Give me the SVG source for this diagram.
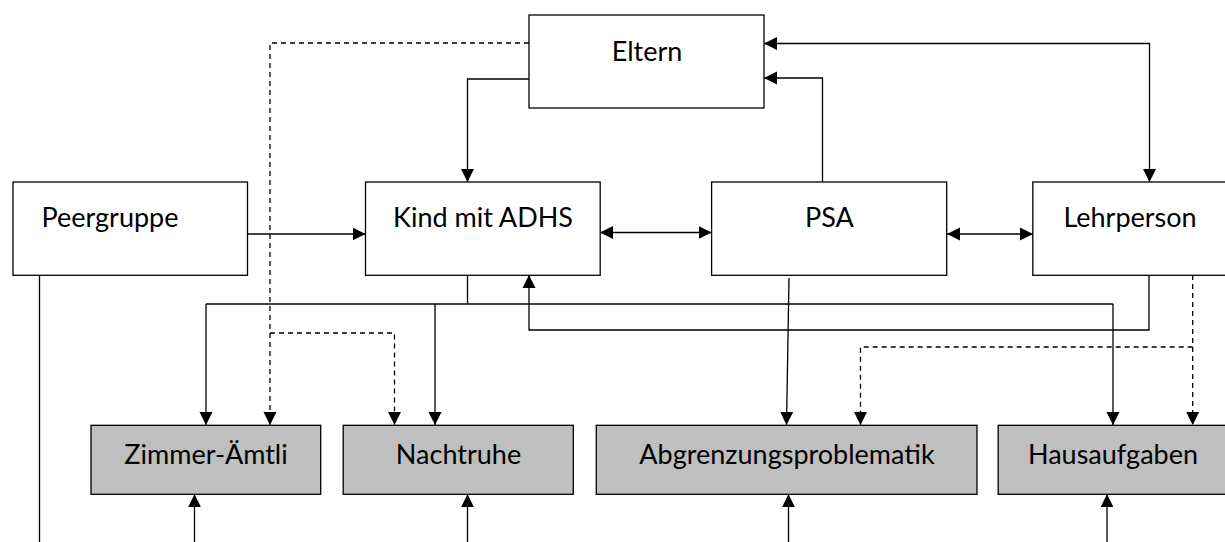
<svg xmlns="http://www.w3.org/2000/svg" width="1225" height="542" viewBox="0 0 1225 542">
<style>
.box{fill:#ffffff;stroke:#000;stroke-width:1.3}
.gbox{fill:#bfbfbf;stroke:#000;stroke-width:1.3}
.lbl{font-family:Lato,"Liberation Sans",sans-serif;font-size:27px;fill:#000;text-anchor:middle}
.ln{fill:none;stroke:#000;stroke-width:1.3}
.dash{fill:none;stroke:#000;stroke-width:1.3;stroke-dasharray:5 4}
.arr{marker-end:url(#ah)}
.arr2{marker-start:url(#ah);marker-end:url(#ah)}
</style>
<defs>
<marker id="ah" markerUnits="userSpaceOnUse" markerWidth="14" markerHeight="14" viewBox="0 0 14 14" refX="13" refY="7" orient="auto-start-reverse">
<path d="M0,0.5 L13,7 L0,13.5 z" fill="#000"/>
</marker>
</defs>
<rect width="1225" height="542" fill="#fff"/>
<g id="connectors">
<path class="ln arr" d="M529,79 H467.5 V182"/>
<path class="dash arr" d="M529,43 H270 V425"/>
<path class="dash arr" d="M270,333 H394.5 V425"/>
<path class="ln arr" d="M822.5,182 V78 H764"/>
<path class="ln arr2" d="M764,43.5 H1149.5 V182"/>
<path class="ln arr" d="M247,234 H365.5"/>
<path class="ln arr2" d="M600,232.5 H711.5"/>
<path class="ln arr2" d="M947,234 H1033"/>
<path class="ln" d="M467.5,275 V304"/>
<path class="ln arr" d="M206,304 V425"/>
<path class="ln" d="M206,304 H1113"/>
<path class="ln arr" d="M435,304 V425"/>
<path class="ln arr" d="M1113,304 V425"/>
<path class="ln arr" d="M1149,275 V330 H529 V275"/>
<path class="ln arr" d="M789,278 L786.5,425"/>
<path class="dash arr" d="M1192.7,275 V425"/>
<path class="dash arr" d="M1192.7,347 H860.5 V425"/>
<path class="ln" d="M39.5,275 V542"/>
<path class="ln arr" d="M194.5,542 V494.3"/>
<path class="ln arr" d="M467.5,542 V494.3"/>
<path class="ln arr" d="M788.5,542 V494.3"/>
<path class="ln arr" d="M1107,542 V494.3"/>
</g>
<g id="eltern"><rect class="box" x="529" y="15" width="235" height="93"/><text class="lbl" x="647" y="61">Eltern</text></g>
<g id="peergruppe"><rect class="box" x="13" y="182" width="234.5" height="93.3"/><text class="lbl" x="110" y="227">Peergruppe</text></g>
<g id="kind"><rect class="box" x="365.5" y="182" width="234.7" height="93.3"/><text class="lbl" x="483" y="227">Kind mit ADHS</text></g>
<g id="psa"><rect class="box" x="711.6" y="182" width="235.1" height="93.3"/><text class="lbl" x="829.5" y="227">PSA</text></g>
<g id="lehrperson"><rect class="box" x="1032.8" y="182" width="194" height="93.3"/><text class="lbl" x="1130" y="227">Lehrperson</text></g>
<g id="zimmer"><rect class="gbox" x="91" y="425.3" width="229.7" height="69"/><text class="lbl" x="206" y="464.3">Zimmer-Ämtli</text></g>
<g id="nachtruhe"><rect class="gbox" x="343.2" y="425.3" width="230.1" height="69"/><text class="lbl" x="458.5" y="464.3">Nachtruhe</text></g>
<g id="abgrenzung"><rect class="gbox" x="596.3" y="425.3" width="380.7" height="69"/><text class="lbl" x="787" y="464.3">Abgrenzungsproblematik</text></g>
<g id="hausaufgaben"><rect class="gbox" x="998.2" y="425.3" width="229" height="69"/><text class="lbl" x="1113" y="464.3">Hausaufgaben</text></g>
</svg>
